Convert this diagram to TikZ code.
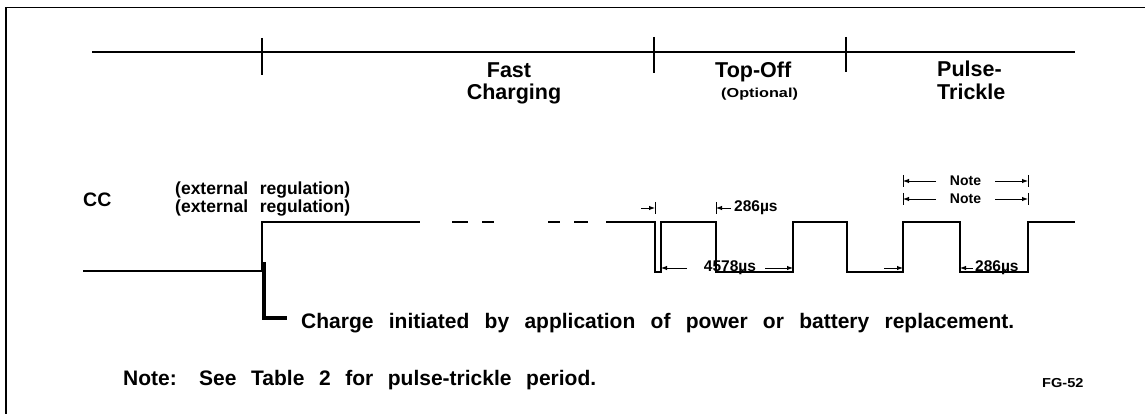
\documentclass[tikz,border=0pt]{standalone}
\usepackage{fontspec}
\usepackage{graphicx}
\setmainfont{Liberation Sans}
\usetikzlibrary{arrows.meta}
\begin{document}
\begin{tikzpicture}[x=1pt,y=-1pt,
  wave/.style={line width=1.1pt},
  dim/.style={line width=0.9pt,-{Latex[length=6pt,width=4.5pt]}},
  bar/.style={line width=0.9pt},
  big/.style={font=\bfseries\fontsize{21.5}{22}\selectfont, inner sep=0pt, anchor=base},
  med/.style={font=\bfseries\fontsize{17.5}{18}\selectfont, inner sep=0pt, anchor=base west},
  dimtxt/.style={font=\bfseries\fontsize{15.5}{16}\selectfont, inner sep=0pt},
  small/.style={font=\bfseries\fontsize{13}{14}\selectfont, inner sep=0pt},
]
\useasboundingbox (0,0) rectangle (1145,414);
\draw[line width=1.5pt] (6,414) -- (6,7.5) -- (1146,7.5);
% timeline
\coordinate (tl0) at (92,52);
\coordinate (tl1) at (1075,52);
\draw[line width=1.1pt] (tl0) -- (tl1);
\draw[line width=1.1pt] (262,38) -- (262,75);
\draw[line width=1.1pt] (654,37) -- (654,73);
\draw[line width=1.3pt] (846,37) -- (846,72);
% phase labels
\node[big] (fast) at (509,78) {Fast};
\node[big] (charging) at (514,100) {Charging};
\node[big, anchor=base west] (topoff) at (715,78) {Top-Off};
\node[small, anchor=base west] (optional) at (721,98) {\scalebox{1.25}[1]{(Optional)}};
\node[big, anchor=base west] (pulse) at (937,77) {Pulse-};
\node[big, anchor=base west] (trickle) at (937,100) {Trickle};
% CC labels
\node[font=\bfseries\fontsize{19.5}{20}\selectfont, inner sep=0pt, anchor=base west] (cc) at (83,206) {CC};
\node[med] (ext1) at (175,194) {\makebox[175pt][s]{(external regulation)}};
\node[med] (ext2) at (175,212) {\makebox[175pt][s]{(external regulation)}};
% waveform
\draw[wave] (83,271) -- (262,271) -- (262,222) -- (420,222);
\foreach \a/\b in {452/468,482/494,548/560,574/588}
  \draw[wave] (\a,222) -- (\b,222);
\draw[wave] (606,222) -- (655,222) -- (655,272) -- (661,272) -- (661,222)
  -- (716,222) -- (716,272) -- (793,272) -- (793,222) -- (847,222)
  -- (847,272) -- (903,272) -- (903,222) -- (960,222) -- (960,272)
  -- (1028,272) -- (1028,222) -- (1075,222);
% charge initiated marker
\draw[line width=4pt] (263.5,262) -- (263.5,318) -- (287,318);
\node[font=\bfseries\fontsize{21}{22}\selectfont, inner sep=0pt, anchor=base west] (charge) at (301,328)
  {\makebox[713pt][s]{Charge initiated by application of power or battery replacement.}};
% top-off dimension 286us
\draw[bar] (655,202) -- (655,214);
\draw[dim] (641,208) -- (655,208);
\draw[bar] (716,202) -- (716,214);
\draw[dim] (731,208) -- (716,208);
\node[dimtxt, anchor=west] (t286a) at (734,208) {286µs};
% 4578us
\draw[dim] (687,268) -- (661,268);
\node[dimtxt] (t4578) at (730,268) {4578µs};
\draw[dim] (765,268) -- (793,268);
% pulse-trickle notes
\foreach \y in {181,199} {
  \draw[bar] (903,\y-6) -- (903,\y+6);
  \draw[bar] (1028,\y-6) -- (1028,\y+6);
  \draw[dim] (936,\y) -- (903,\y);
  \draw[dim] (995,\y) -- (1028,\y);
  \node[font=\bfseries\fontsize{14}{15}\selectfont, inner sep=0pt] at (965.5,\y) {Note};
}
% pulse-trickle 286us
\draw[dim] (884,268) -- (903,268);
\draw[dim] (973,268) -- (960,268);
\node[dimtxt, anchor=west] (t286b) at (975,268) {286µs};
% notes
\node[font=\bfseries\fontsize{21}{22}\selectfont, inner sep=0pt, anchor=base west] (note) at (123,385)
  {\makebox[76pt][l]{Note:}\makebox[397pt][s]{See Table 2 for pulse-trickle period.}};
\node[font=\bfseries\fontsize{13}{14}\selectfont, inner sep=0pt, anchor=base west] (fg) at (1042,387) {\scalebox{1.12}[1]{FG-52}};
\end{tikzpicture}
\end{document}
